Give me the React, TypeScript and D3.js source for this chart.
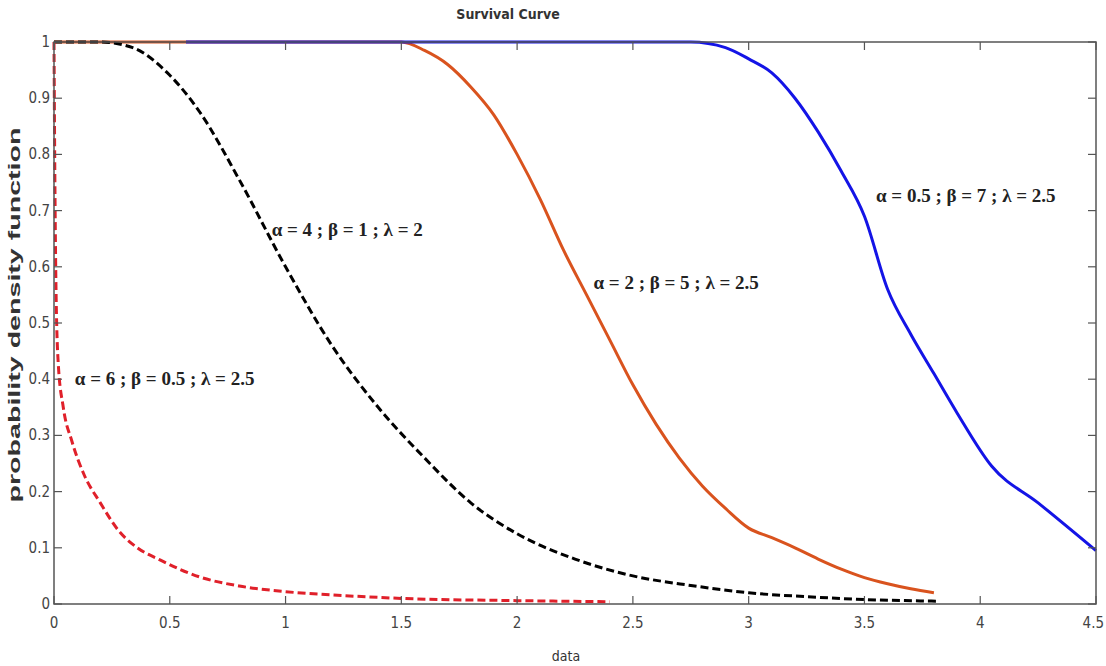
import React, { useEffect, useRef } from "react";
import * as d3 from "d3";

const xTicks = [0, 0.5, 1, 1.5, 2, 2.5, 3, 3.5, 4, 4.5];
const yTicks = [0, 0.1, 0.2, 0.3, 0.4, 0.5, 0.6, 0.7, 0.8, 0.9, 1];

const orangeCurve: [number, number][] = [
  [0, 1], [1.5, 1], [1.6, 0.985], [1.7, 0.96], [1.8, 0.92], [1.9, 0.87], [2, 0.8],
  [2.1, 0.72], [2.2, 0.63], [2.3, 0.55], [2.4, 0.47], [2.5, 0.39], [2.6, 0.32],
  [2.7, 0.26], [2.8, 0.21], [2.9, 0.17], [3, 0.135], [3.1, 0.118], [3.2, 0.1],
  [3.3, 0.08], [3.4, 0.062], [3.5, 0.047], [3.6, 0.036], [3.7, 0.027], [3.8, 0.02],
];
const blueCurve: [number, number][] = [
  [0.57, 1], [2.75, 1], [2.9, 0.99], [3, 0.97], [3.1, 0.945], [3.2, 0.9], [3.3, 0.84],
  [3.4, 0.77], [3.5, 0.69], [3.6, 0.56], [3.7, 0.48], [3.8, 0.41], [3.9, 0.34],
  [4.05, 0.245], [4.25, 0.18], [4.5, 0.095],
];
const blackCurve: [number, number][] = [
  [0, 1], [0.2, 1], [0.34, 0.99], [0.49, 0.945], [0.63, 0.875], [0.8, 0.755], [1, 0.6],
  [1.2, 0.46], [1.4, 0.35], [1.6, 0.26], [1.8, 0.18], [2, 0.125], [2.25, 0.08],
  [2.5, 0.05], [2.75, 0.033], [3, 0.02], [3.25, 0.013], [3.5, 0.008], [3.82, 0.005],
];
const redCurve: [number, number][] = [
  [0, 1], [0.003, 0.8], [0.008, 0.58], [0.018, 0.43], [0.04, 0.35], [0.077, 0.29],
  [0.13, 0.23], [0.2, 0.18], [0.28, 0.13], [0.36, 0.1], [0.46, 0.078], [0.63, 0.048],
  [0.8, 0.032], [1, 0.022], [1.25, 0.015], [1.5, 0.01], [2, 0.006], [2.4, 0.004],
];

const series = [
  { name: "orange", data: orangeCurve, color: "#d9531e", dash: null },
  { name: "blue", data: blueCurve, color: "#1414e6", dash: null },
  { name: "black", data: blackCurve, color: "#000000", dash: "8,4" },
  { name: "red", data: redCurve, color: "#e0202a", dash: "8,4" },
];

const labels = [
  { text: "α = 6 ; β = 0.5 ; λ = 2.5", x: 0.09, y: 0.39 },
  { text: "α = 4 ; β = 1 ; λ = 2", x: 0.94, y: 0.655 },
  { text: "α = 2 ; β = 5 ; λ = 2.5", x: 2.33, y: 0.56 },
  { text: "α = 0.5 ; β = 7 ; λ = 2.5", x: 3.55, y: 0.715 },
];

const App = () => {
  const chartRef = useRef<HTMLDivElement>(null);

  useEffect(() => {
    document.body.style.margin = "0";
    const width = 1106;
    const height = 666;
    const margin = { left: 54, top: 42, right: 10, bottom: 62 };

    const root = d3.select(chartRef.current);
    root.selectAll("*").remove();
    const svg = root
      .append("svg")
      .attr("width", width)
      .attr("height", height)
      .style("display", "block")
      .style("background", "#fff");

    const x = d3.scaleLinear().domain([0, 4.5]).range([margin.left, width - margin.right]);
    const y = d3.scaleLinear().domain([0, 1]).range([height - margin.bottom, margin.top]);

    const tickFont = "'DejaVu Sans Condensed', 'Liberation Sans Narrow', 'Roboto', sans-serif";

    // curves
    const line = d3
      .line<[number, number]>()
      .x((d) => x(d[0]))
      .y((d) => y(d[1]))
      .curve(d3.curveMonotoneX);

    svg
      .selectAll(".curve")
      .data(series)
      .enter()
      .append("path")
      .attr("class", "curve")
      .attr("d", (d) => line(d.data))
      .attr("fill", "none")
      .attr("stroke", (d) => d.color)
      .attr("stroke-width", 3)
      .attr("stroke-dasharray", (d) => d.dash);

    // box + ticks
    const axisColor = "#555";
    svg
      .append("rect")
      .attr("x", x(0))
      .attr("y", y(1))
      .attr("width", x(4.5) - x(0))
      .attr("height", y(0) - y(1))
      .attr("fill", "none")
      .attr("stroke", axisColor)
      .attr("stroke-width", 1.5);

    const xt = svg.append("g");
    xTicks.forEach((t, i) => {
      xt.append("line").attr("x1", x(t)).attr("x2", x(t)).attr("y1", y(0)).attr("y2", y(0) - 8)
        .attr("stroke", axisColor).attr("stroke-width", 1.2);
      xt.append("line").attr("x1", x(t)).attr("x2", x(t)).attr("y1", y(1)).attr("y2", y(1) + 8)
        .attr("stroke", axisColor).attr("stroke-width", 1.2);
      const last = i === xTicks.length - 1;
      xt.append("text")
        .attr("x", last ? x(t) + 8 : x(t))
        .attr("y", y(0) + 24)
        .attr("text-anchor", last ? "end" : "middle")
        .attr("font-family", tickFont)
        .attr("font-size", 15)
        .attr("fill", "#444")
        .text(String(t));
    });

    const yt = svg.append("g");
    yTicks.forEach((t) => {
      yt.append("line").attr("x1", x(0)).attr("x2", x(0) + 8).attr("y1", y(t)).attr("y2", y(t))
        .attr("stroke", axisColor).attr("stroke-width", 1.2);
      yt.append("line").attr("x1", x(4.5)).attr("x2", x(4.5) - 8).attr("y1", y(t)).attr("y2", y(t))
        .attr("stroke", axisColor).attr("stroke-width", 1.2);
      yt.append("text")
        .attr("x", x(0) - 4)
        .attr("y", y(t) + 5)
        .attr("text-anchor", "end")
        .attr("font-family", tickFont)
        .attr("font-size", 15)
        .attr("fill", "#444")
        .text(String(t));
    });

    // title and axis labels
    svg
      .append("text")
      .attr("x", 508)
      .attr("y", 19)
      .attr("text-anchor", "middle")
      .attr("font-family", tickFont)
      .attr("font-size", 14)
      .attr("font-weight", 600)
      .attr("fill", "#333")
      .text("Survival Curve");

    svg
      .append("text")
      .attr("x", 566)
      .attr("y", 661)
      .attr("text-anchor", "middle")
      .attr("font-family", tickFont)
      .attr("font-size", 14)
      .attr("fill", "#333")
      .text("data");

    svg
      .append("text")
      .attr("transform", `translate(20,${y(0.5) - 8}) rotate(-90)`)
      .attr("text-anchor", "middle")
      .attr("font-family", "'Liberation Sans', Arial, sans-serif")
      .attr("font-weight", "bold")
      .attr("font-size", 17)
      .attr("textLength", 375)
      .attr("lengthAdjust", "spacingAndGlyphs")
      .attr("fill", "#333")
      .text("probability density function");

    // parameter annotations
    svg
      .selectAll(".paramLabel")
      .data(labels)
      .enter()
      .append("text")
      .attr("class", "paramLabel")
      .attr("x", (d) => x(d.x))
      .attr("y", (d) => y(d.y))
      .attr("font-family", "'Liberation Serif', 'DejaVu Serif', serif")
      .attr("font-weight", "bold")
      .attr("font-size", 19)
      .attr("fill", "#222")
      .text((d) => d.text);
  }, []);

  return <div id="chart" ref={chartRef}></div>;
};

export default App;
